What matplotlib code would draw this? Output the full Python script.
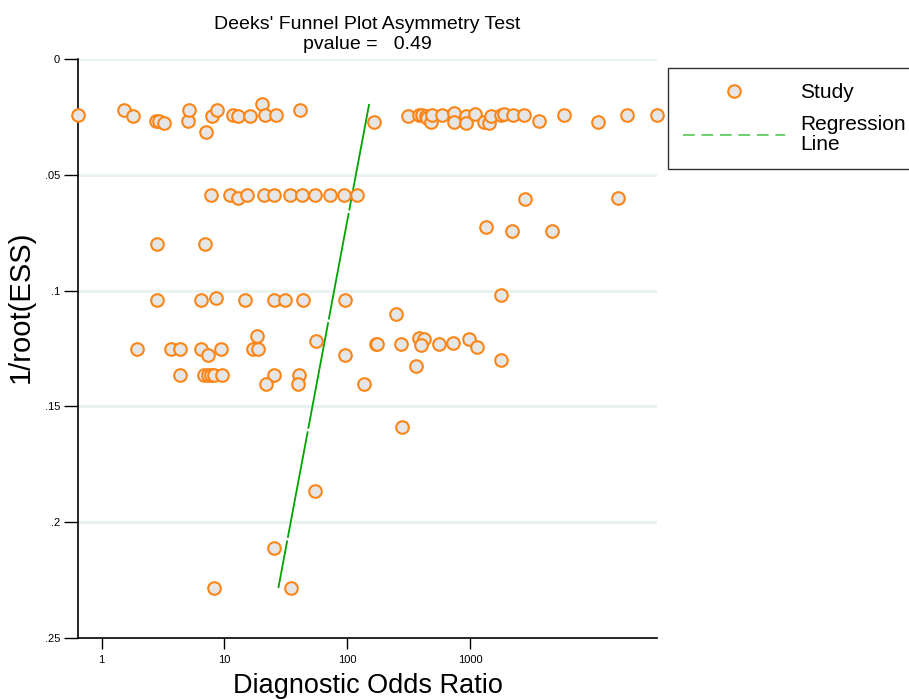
import matplotlib
matplotlib.use("Agg")
import matplotlib.pyplot as plt
from matplotlib.lines import Line2D

plt.rcParams['font.family'] = ['Liberation Sans', 'DejaVu Sans']

# Diagnostic odds ratio of each study
dor = [0.642, 1.52, 1.80, 2.78, 2.92, 3.25, 5.03, 5.19, 7.14, 7.88, 8.72, 11.7, 13.0, 16.2,
       20.1, 21.3, 26.5, 41.3, 166, 315, 385, 409, 436, 450, 479, 494, 595, 741, 741, 923,
       923, 1099, 1300, 1427, 1473, 1777, 1889, 2249, 2748, 3640, 5808, 10987, 19150, 33350,
       7.80, 11.1, 12.8, 15.3, 21.1, 25.2, 34.4, 42.5, 54.6, 72.7, 93.3, 120, 2786, 16070,
       1342, 2182, 4618,
       2.80, 7.01,
       2.80, 6.47, 8.56, 14.7, 25.2, 31.3, 43.3, 95.8, 1796, 252,
       18.5, 1.95, 3.69, 4.36, 6.50, 7.31, 9.40, 17.2, 18.9, 55.7, 95.8, 171, 176, 276, 385,
       420, 397, 563, 729, 982, 1147, 364, 1796,
       4.36, 6.87, 7.31, 7.80, 8.29, 9.51, 25.5, 40.8, 21.8, 39.5, 136, 280, 54.6, 25.5,
       8.29, 35.1]
# 1/sqrt(effective sample size) of each study
inv_root_ess = [0.0242, 0.0221, 0.0245, 0.0268, 0.0268, 0.0275, 0.0268, 0.0221, 0.0315,
                0.0246, 0.0221, 0.0240, 0.0245, 0.0245, 0.0193, 0.0240, 0.0240, 0.0221,
                0.0271, 0.0245, 0.0242, 0.0242, 0.0245, 0.0256, 0.0271, 0.0242, 0.0242,
                0.0234, 0.0271, 0.0248, 0.0277, 0.0237, 0.0271, 0.0277, 0.0245, 0.0242,
                0.0239, 0.0242, 0.0242, 0.0268, 0.0242, 0.0271, 0.0242, 0.0242,
                0.0589, 0.0589, 0.0601, 0.0589, 0.0589, 0.0589, 0.0589, 0.0589, 0.0589,
                0.0589, 0.0589, 0.0589, 0.0604, 0.0601, 0.0724, 0.0741, 0.0741,
                0.0800, 0.0800,
                0.1042, 0.1042, 0.1033, 0.1042, 0.1042, 0.1042, 0.1042, 0.1042, 0.1019, 0.1102,
                0.1195, 0.1251, 0.1251, 0.1251, 0.1251, 0.1279, 0.1251, 0.1251, 0.1251,
                0.1218, 0.1279, 0.1231, 0.1231, 0.1232, 0.1203, 0.1209, 0.1235, 0.1232,
                0.1228, 0.1209, 0.1245, 0.1324, 0.1300,
                0.1364, 0.1364, 0.1364, 0.1364, 0.1364, 0.1364, 0.1364, 0.1364, 0.1403,
                0.1403, 0.1403, 0.1588, 0.1865, 0.2110, 0.2285, 0.2285]

# Regression line end points
reg_dor = [151, 27.5]
reg_y = [0.0194, 0.2284]

x_ticks = [1, 10, 100, 1000]
x_ticklabels = ["1", "10", "100", "1000"]
y_ticks = [0, 0.05, 0.10, 0.15, 0.20, 0.25]
y_ticklabels = ["0", ".05", ".1", ".15", ".2", ".25"]

title = "Deeks' Funnel Plot Asymmetry Test\npvalue =   0.49"

fig = plt.figure(figsize=(9.09, 6.99), dpi=100)
ax = fig.add_axes([78/909, 1-638/699, (657-78)/909, (638-59)/699])

ax.plot(reg_dor, reg_y, color="#00a400", lw=1.3, linestyle=(0, (60, 1.5)), zorder=2,
        clip_on=False)
ax.scatter(dor, inv_root_ess, s=82, facecolor="#e6e6e6", edgecolor="#fb8517",
           linewidth=1.5, zorder=3, clip_on=False)

ax.set_xscale("log")
ax.set_xlim(min(dor), max(dor))
ax.set_ylim(0.25, 0)
ax.set_xticks(x_ticks)
ax.set_xticklabels(x_ticklabels)
ax.minorticks_off()
ax.set_yticks(y_ticks)
ax.set_yticklabels(y_ticklabels)
ax.tick_params(axis='x', length=8, width=1, labelsize=8, pad=4)
ax.tick_params(axis='y', length=10, width=1, labelsize=8, pad=3)
for s in ("top", "right"):
    ax.spines[s].set_visible(False)
for s in ("left", "bottom"):
    ax.spines[s].set_linewidth(1.2)
for yv in y_ticks[:-1]:
    ax.axhline(yv, color="#eaf1f3", lw=2.2, zorder=0)

xl = ax.set_xlabel("Diagnostic Odds Ratio", fontsize=19.5)
xl.set_va("baseline")
ax.xaxis.set_label_coords(0.5, -(693-638)/579)
yl = ax.set_ylabel("1/root(ESS)", fontsize=21)
yl.set_va("center")
ax.yaxis.set_label_coords((21-78)/579, (638-307)/579)
ax.set_title(title, fontsize=14, linespacing=1.22, pad=7)

handles = [
    Line2D([], [], marker='o', linestyle='none', markersize=9,
           markerfacecolor="#e6e6e6", markeredgecolor="#fb8517", markeredgewidth=1.5),
    Line2D([], [], color="#6ccf6c", lw=1.4, linestyle=(0, (6, 3.5))),
]
leg = fig.legend(handles, ["Study", "Regression\nLine"], loc="upper left",
                 bbox_to_anchor=(668/909, 1-68/699, 0.3, 0.0), mode="expand",
                 fontsize=15, frameon=True, fancybox=False, edgecolor="black",
                 handlelength=4.9, handletextpad=0.72, borderpad=0.72, labelspacing=0.62,
                 borderaxespad=0)
leg.get_frame().set_linewidth(1.0)
for t in leg.get_texts():
    t.set_linespacing(1.1)

fig.savefig("out.png", dpi=100)
